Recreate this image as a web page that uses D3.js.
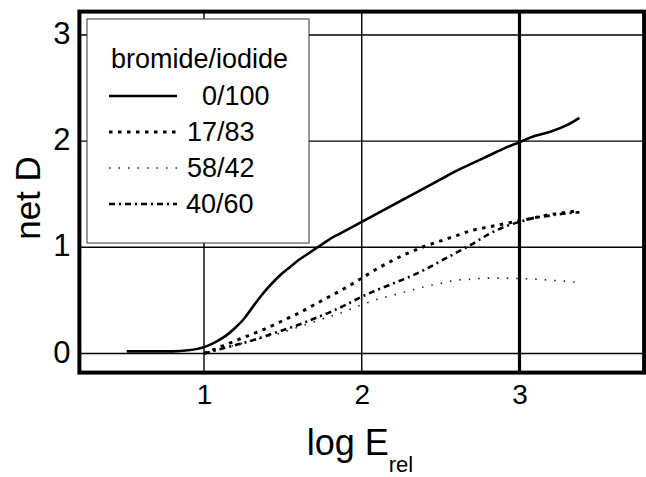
<!DOCTYPE html>
<html>
<head>
<meta charset="utf-8">
<script src="https://cdn.jsdelivr.net/npm/d3@7"></script>
<style>
  html, body { margin: 0; padding: 0; background: #fff; }
  svg { display: block; }
  text { font-family: "Liberation Sans", Arial, sans-serif; fill: #000; }
</style>
</head>
<body>
<div id="chart"></div>
<script>
// ---------------- data ----------------
const seriesNames = ["0/100", "17/83", "58/42", "40/60"];
const legendTitle = "bromide/iodide";
const xTicks = [1, 2, 3];
const yTicks = [0, 1, 2, 3];
const xTitle = "log E";
const xTitleSub = "rel";
const yTitle = "net D";

const logE_0_100 = [0.51,0.6,0.7,0.8,0.9,1.0,1.05,1.1,1.15,1.2,1.25,1.3,1.35,1.4,1.45,1.5,1.55,1.6,1.65,1.7,1.75,1.8,1.85,1.9,2.0,2.1,2.2,2.3,2.4,2.5,2.6,2.7,2.8,2.9,3.0,3.1,3.2,3.3,3.38];
const netD_0_100 = [0.02,0.02,0.02,0.02,0.03,0.06,0.09,0.13,0.18,0.245,0.32,0.42,0.52,0.61,0.69,0.76,0.82,0.88,0.93,0.98,1.03,1.08,1.12,1.16,1.24,1.32,1.40,1.48,1.56,1.64,1.72,1.79,1.86,1.93,1.99,2.05,2.09,2.15,2.22];

const logE_17_83 = [1.0,1.1,1.2,1.3,1.4,1.5,1.6,1.7,1.8,1.9,2.0,2.1,2.2,2.3,2.4,2.5,2.6,2.7,2.8,2.9,3.0,3.1,3.2,3.3,3.38];
const netD_17_83 = [0.0,0.06,0.12,0.18,0.24,0.31,0.38,0.46,0.54,0.62,0.71,0.80,0.88,0.95,1.01,1.06,1.11,1.16,1.19,1.22,1.25,1.28,1.31,1.33,1.345];

const logE_58_42 = [1.0,1.1,1.2,1.3,1.4,1.5,1.6,1.7,1.8,1.9,2.0,2.1,2.2,2.3,2.4,2.5,2.6,2.7,2.8,2.9,3.0,3.1,3.2,3.3,3.38];
const netD_58_42 = [0.0,0.04,0.08,0.12,0.16,0.20,0.25,0.30,0.35,0.40,0.46,0.51,0.55,0.59,0.63,0.66,0.69,0.70,0.71,0.71,0.705,0.70,0.69,0.68,0.667];

const logE_40_60 = [1.0,1.1,1.2,1.3,1.4,1.5,1.6,1.7,1.8,1.9,2.0,2.1,2.2,2.3,2.4,2.5,2.6,2.7,2.8,2.9,3.0,3.1,3.2,3.3,3.38];
const netD_40_60 = [0.0,0.04,0.08,0.12,0.17,0.22,0.27,0.33,0.39,0.46,0.535,0.60,0.66,0.72,0.79,0.87,0.95,1.03,1.12,1.19,1.24,1.28,1.30,1.32,1.33];

const seriesX = [logE_0_100, logE_17_83, logE_58_42, logE_40_60];
const seriesY = [netD_0_100, netD_17_83, netD_58_42, netD_40_60];

// ---------------- styles ----------------
const styles = [
  { width: 2.6, dash: null, color: "#000" },
  { width: 3, dash: "3.5,5.5", color: "#000" },
  { width: 1.6, dash: "1.5,8", color: "#222" },
  { width: 2.6, dash: "6,4,2,4", color: "#000" }
];

const W = 646, H = 477;
const svg = d3.select("#chart").append("svg").attr("width", W).attr("height", H);
svg.append("rect").attr("width", W).attr("height", H).attr("fill", "#fff");

const x = d3.scaleLinear().domain([0.21, 3.79]).range([79.4, 644.1]);
const y = d3.scaleLinear().domain([-0.18, 3.22]).range([372.6, 11.6]);
const [x0, x1] = x.range();
const [y0, y1] = y.range();

// grid
const grid = svg.append("g");
grid.selectAll("line.h").data(yTicks).join("line")
  .attr("x1", x0).attr("x2", x1)
  .attr("y1", d => y(d)).attr("y2", d => y(d))
  .attr("stroke", "#000").attr("stroke-width", 1.4);
grid.selectAll("line.v").data(xTicks).join("line")
  .attr("y1", y0).attr("y2", y1)
  .attr("x1", d => x(d)).attr("x2", d => x(d))
  .attr("stroke", "#000").attr("stroke-width", d => d === 3 ? 3.2 : 1.4);

// legend box (covers grid)
const lg = svg.append("g");
lg.append("rect").attr("x", 87).attr("y", 19).attr("width", 222).attr("height", 224)
  .attr("fill", "#fff").attr("stroke", "#333").attr("stroke-width", 1);
lg.append("text").attr("x", 111).attr("y", 68).attr("font-size", 27).text(legendTitle);
const labelDx = [202, 187, 187, 186];
seriesNames.forEach((name, i) => {
  const by = 105 + i * 36;
  const st = styles[i];
  lg.append("line").attr("x1", 109).attr("x2", 177).attr("y1", by - 9).attr("y2", by - 9)
    .attr("stroke", st.color).attr("stroke-width", st.width)
    .attr("stroke-dasharray", st.dash);
  lg.append("text").attr("x", labelDx[i]).attr("y", by).attr("font-size", 27).text(name);
});

// curves
const line = d3.line().x(d => x(d[0])).y(d => y(d[1])).curve(d3.curveMonotoneX);
seriesNames.forEach((name, i) => {
  const pts = seriesX[i].map((v, j) => [v, seriesY[i][j]]);
  const st = styles[i];
  svg.append("path").attr("d", line(pts)).attr("fill", "none")
    .attr("stroke", st.color).attr("stroke-width", st.width)
    .attr("stroke-dasharray", st.dash)
    .attr("stroke-linejoin", "round");
});

// frame
svg.append("rect").attr("x", x0).attr("y", y1).attr("width", x1 - x0).attr("height", y0 - y1)
  .attr("fill", "none").attr("stroke", "#000").attr("stroke-width", 4);

// axes labels
const yAxis = svg.append("g").attr("transform", `translate(${x0},0)`)
  .call(d3.axisLeft(y).tickValues(yTicks).tickSize(0).tickPadding(9).tickFormat(d3.format("d")));
yAxis.select(".domain").remove();
yAxis.selectAll("text").attr("font-size", 31).attr("font-family", "Liberation Sans, Arial, sans-serif").attr("dy", "0.28em");

const xAxis = svg.append("g").attr("transform", `translate(0,${y0})`)
  .call(d3.axisBottom(x).tickValues(xTicks).tickSize(0).tickPadding(12).tickFormat(d3.format("d")));
xAxis.select(".domain").remove();
xAxis.selectAll("text").attr("font-size", 28).attr("font-family", "Liberation Sans, Arial, sans-serif");

// titles
const xt = svg.append("text").attr("x", 360).attr("y", 455).attr("text-anchor", "middle").attr("font-size", 36);
xt.append("tspan").text(xTitle);
xt.append("tspan").attr("font-size", 22).attr("dy", 17).text(xTitleSub);

svg.append("text").attr("transform", "translate(40,198) rotate(-90)")
  .attr("text-anchor", "middle").attr("font-size", 35).text(yTitle);
</script>
</body>
</html>
